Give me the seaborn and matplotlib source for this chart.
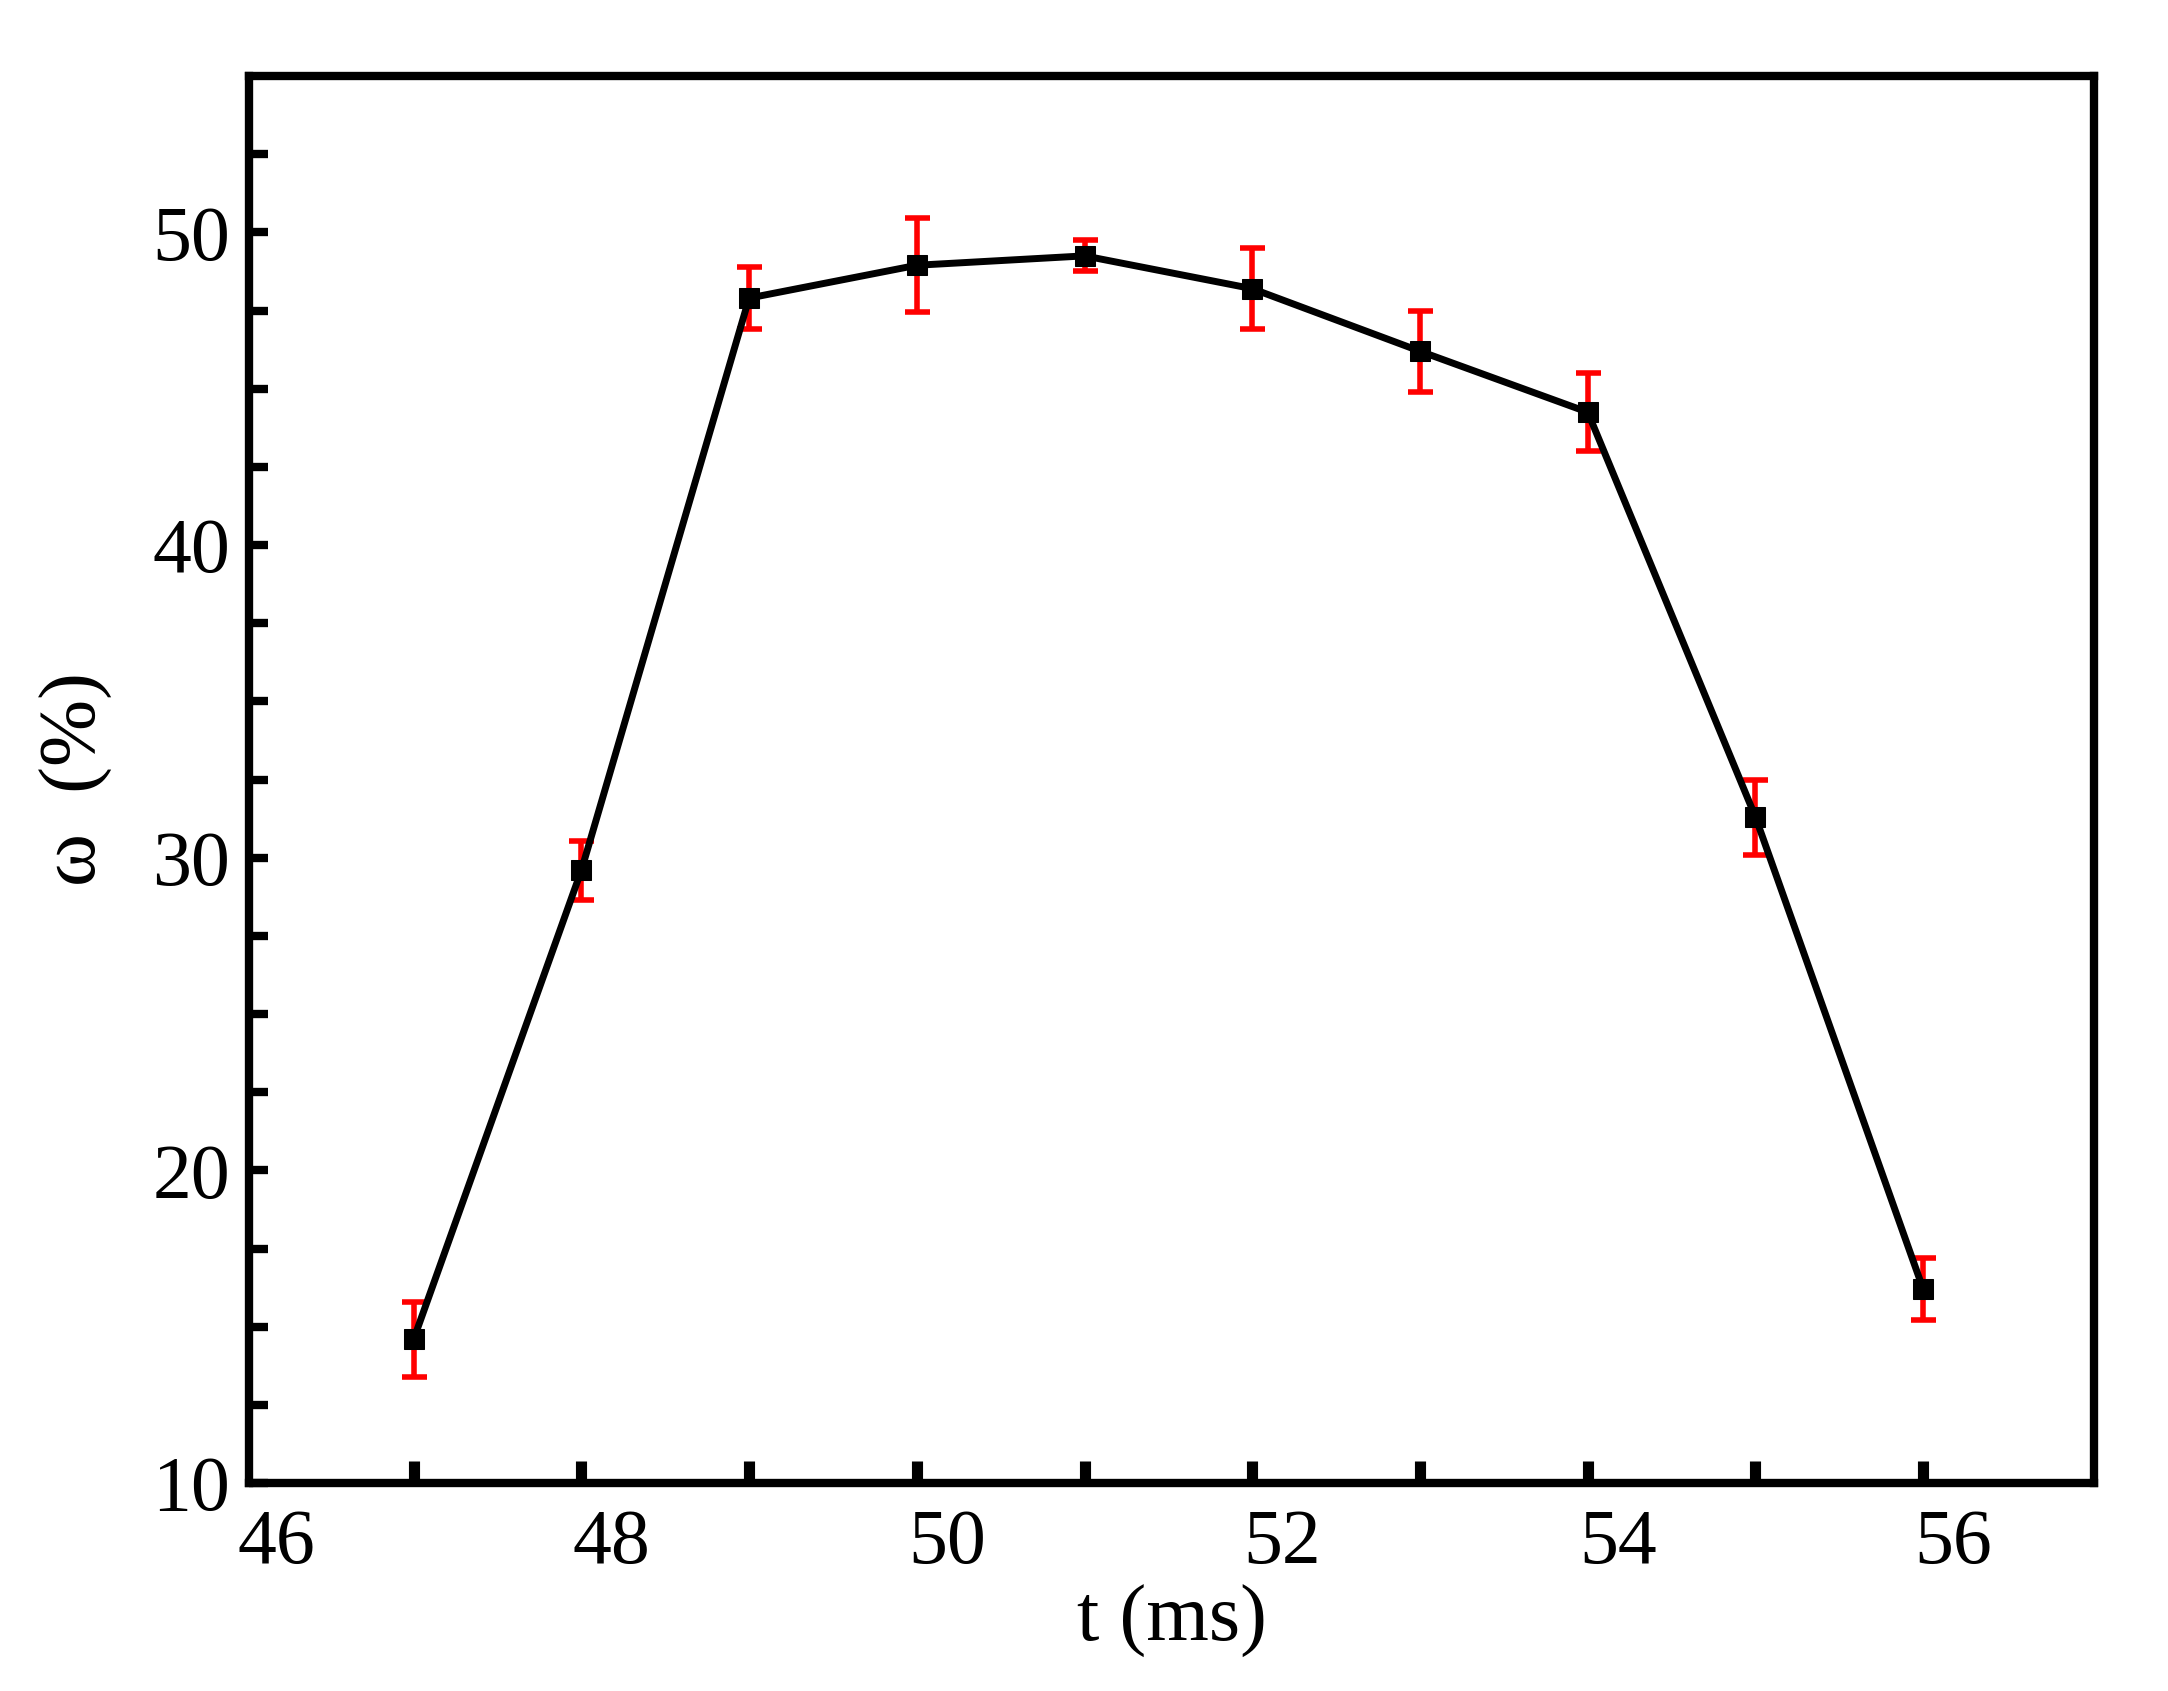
import matplotlib
matplotlib.use("Agg")
import matplotlib.pyplot as plt
import seaborn as sns
import pandas as pd

t = [46.82, 47.82, 48.82, 49.82, 50.82, 51.82, 52.82, 53.82, 54.82, 55.82]
omega = [14.6, 29.6, 47.9, 48.95, 49.25, 48.2, 46.2, 44.25, 31.3, 16.2]
err = [1.2, 0.95, 1.0, 1.5, 0.5, 1.3, 1.3, 1.25, 1.2, 1.0]
xlabels = [46, 48, 50, 52, 54, 56]

sns.set_theme(style="white")
plt.rcParams['font.family'] = ['Liberation Serif', 'DejaVu Serif']
plt.rcParams['text.color'] = 'black'
plt.rcParams['axes.labelcolor'] = 'black'
plt.rcParams['xtick.color'] = 'black'
plt.rcParams['ytick.color'] = 'black'
df = pd.DataFrame({"t": t, "omega": omega})

fig = plt.figure(figsize=(21.68, 16.91), dpi=100)
ax = fig.add_axes([0.115, 0.123, 0.851, 0.832])
ax.errorbar(t, omega, yerr=err, fmt="none", ecolor="red", elinewidth=4, capsize=9, capthick=4, zorder=2)
sns.lineplot(data=df, x="t", y="omega", ax=ax, color="black", linewidth=5, marker="s",
             markersize=14, markeredgecolor="black", markerfacecolor="black", zorder=3)
ax.set_xlim(45.84, 56.84)
ax.set_ylim(10, 55)
ax.set_xticks(xlabels)
ax.set_xticklabels([str(v) for v in xlabels])
ax.tick_params(axis="x", which="major", bottom=True, length=0, labelsize=56, pad=18)
ax.set_xticks(t, minor=True)
ax.tick_params(axis="x", which="minor", bottom=True, direction="in", length=16, width=8, color="black")
ax.set_yticks([10, 20, 30, 40, 50])
ax.set_yticks([12.5, 15, 17.5, 22.5, 25, 27.5, 32.5, 35, 37.5, 42.5, 45, 47.5, 52.5], minor=True)
ax.tick_params(axis="y", which="both", direction="in", length=14, width=6, color="black", labelsize=56, left=True, pad=14)
for s in ax.spines.values():
    s.set_linewidth(6)
    s.set_color("black")
ax.set_xlabel("t (ms)", fontsize=58, labelpad=4)
ax.set_ylabel("ω  (%)", fontsize=58, labelpad=28)
fig.savefig("out.png", dpi=100)
